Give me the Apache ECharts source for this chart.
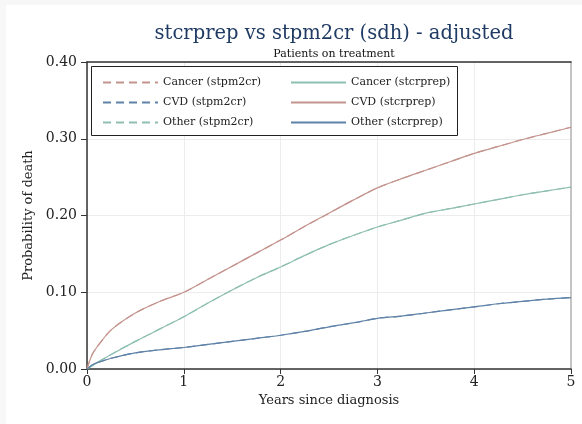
<!DOCTYPE html>
<html>
<head>
<meta charset="utf-8">
<script src="https://cdn.jsdelivr.net/npm/echarts@6/dist/echarts.min.js"></script>
<style>
  html, body { margin: 0; padding: 0; background: #f7f7f7; }
  #wrap { position: absolute; left: 6px; top: 5px; width: 576px; height: 419px; background: #fff; }
  #chart { position: absolute; left: -6px; top: -5px; width: 582px; height: 424px; }
</style>
</head>
<body>
<div id="wrap"><div id="chart"></div></div>
<script>
// years since diagnosis
var years = [0, 0.05, 0.1, 0.25, 0.5, 0.75, 1, 1.25, 1.5, 1.75, 2, 2.25, 2.5, 2.75, 3, 3.25, 3.5, 3.75, 4, 4.25, 4.5, 4.75, 5];
// probability of death
var topCurve = [0, 0.018, 0.028, 0.051, 0.073, 0.088, 0.100, 0.117, 0.134, 0.151, 0.168, 0.186, 0.203, 0.220, 0.236, 0.248, 0.259, 0.270, 0.281, 0.290, 0.299, 0.307, 0.315];
var midCurve = [0, 0.004, 0.008, 0.019, 0.036, 0.052, 0.068, 0.086, 0.103, 0.119, 0.133, 0.148, 0.162, 0.174, 0.185, 0.194, 0.203, 0.209, 0.215, 0.221, 0.227, 0.232, 0.237];
var lowCurve = [0, 0.005, 0.008, 0.014, 0.021, 0.025, 0.028, 0.032, 0.036, 0.040, 0.044, 0.049, 0.055, 0.060, 0.066, 0.069, 0.073, 0.077, 0.081, 0.085, 0.088, 0.091, 0.093];
var yTicks = [0, 0.1, 0.2, 0.3, 0.4];

var red = '#c4948e', blue = '#5f82a8', green = '#8fbfb2';
var serif = 'DejaVu Serif';

function pts(arr) {
    return years.map(function(x, i) { return [x, arr[i]]; });
}
function line(name, arr, color, dashed) {
    return {
        name: name,
        type: 'line',
        symbol: 'none',
        smooth: 0.3,
        xAxisIndex: 0,
        yAxisIndex: 0,
        lineStyle: { color: color, width: 1.2, type: dashed ? [8, 5] : 'solid' },
        itemStyle: { color: color },
        data: pts(arr)
    };
}

var legendBase = {
    orient: 'vertical', top: 72, z: 100,
    itemWidth: 55, itemHeight: 10, itemGap: 9,
    itemStyle: { opacity: 0 },
    textStyle: { fontFamily: serif, fontSize: 11, color: '#222' }
};

var chart = echarts.init(document.getElementById('chart'));
var option = {
    animation: false,
    backgroundColor: 'transparent',
    title: [{
        text: 'stcrprep vs stpm2cr (sdh) - adjusted',
        left: 329, top: 19, textAlign: 'center',
        textStyle: { fontFamily: serif, fontSize: 19.5, fontWeight: 'normal', color: '#1f3a63' }
    }, {
        text: 'Patients on treatment',
        left: 329, top: 44, textAlign: 'center',
        textStyle: { fontFamily: serif, fontSize: 11, fontWeight: 'normal', color: '#111' }
    }],
    grid: { left: 87, right: 11, top: 62, bottom: 55 },
    graphic: [{
        type: 'rect', z: 90,
        shape: { x: 91.5, y: 66.5, width: 366, height: 69 },
        style: { fill: '#fff', stroke: '#222', lineWidth: 1 }
    }],
    legend: [
        Object.assign({ left: 97, data: ['Cancer (stpm2cr)', 'CVD (stpm2cr)', 'Other (stpm2cr)'] }, legendBase),
        Object.assign({ left: 285, data: ['Cancer (stcrprep)', 'CVD (stcrprep)', 'Other (stcrprep)'] }, legendBase)
    ],
    xAxis: [{
        type: 'value', min: 0, max: 5, interval: 1,
        name: 'Years since diagnosis', nameLocation: 'middle', nameGap: 22,
        nameTextStyle: { fontFamily: serif, fontSize: 13, color: '#222' },
        axisLine: { lineStyle: { color: '#333', width: 1.5 } },
        axisTick: { length: 5, lineStyle: { color: '#333' } },
        axisLabel: { fontFamily: serif, fontSize: 14, color: '#222', margin: 6 },
        splitLine: { lineStyle: { color: '#ececec' } }
    }, {
        type: 'value', min: 0, max: 5, position: 'top',
        axisLine: { show: true, onZero: false, lineStyle: { color: '#333', width: 1.5 } },
        axisTick: { show: false }, axisLabel: { show: false }, splitLine: { show: false }
    }],
    yAxis: [{
        type: 'value', min: yTicks[0], max: yTicks[yTicks.length - 1], interval: 0.1,
        name: 'Probability of death', nameLocation: 'middle', nameGap: 49,
        nameTextStyle: { fontFamily: serif, fontSize: 13, color: '#222' },
        axisLine: { show: true, lineStyle: { color: '#333', width: 1.5 } },
        axisTick: { show: true, length: 6, lineStyle: { color: '#333' } },
        axisLabel: { fontFamily: serif, fontSize: 14, color: '#222', margin: 10,
            formatter: function(v) { return v.toFixed(2); } },
        splitLine: { lineStyle: { color: '#ececec' } }
    }, {
        type: 'value', min: 0, max: 0.4, position: 'right',
        axisLine: { show: true, onZero: false, lineStyle: { color: '#c4c4c4', width: 2 } },
        axisTick: { show: false }, axisLabel: { show: false }, splitLine: { show: false }
    }],
    series: [
        line('Cancer (stpm2cr)', topCurve, red, true),
        line('CVD (stpm2cr)', lowCurve, blue, true),
        line('Other (stpm2cr)', midCurve, green, true),
        line('Cancer (stcrprep)', midCurve, green, false),
        line('CVD (stcrprep)', topCurve, red, false),
        line('Other (stcrprep)', lowCurve, blue, false)
    ]
};
chart.setOption(option);
</script>
</body>
</html>
